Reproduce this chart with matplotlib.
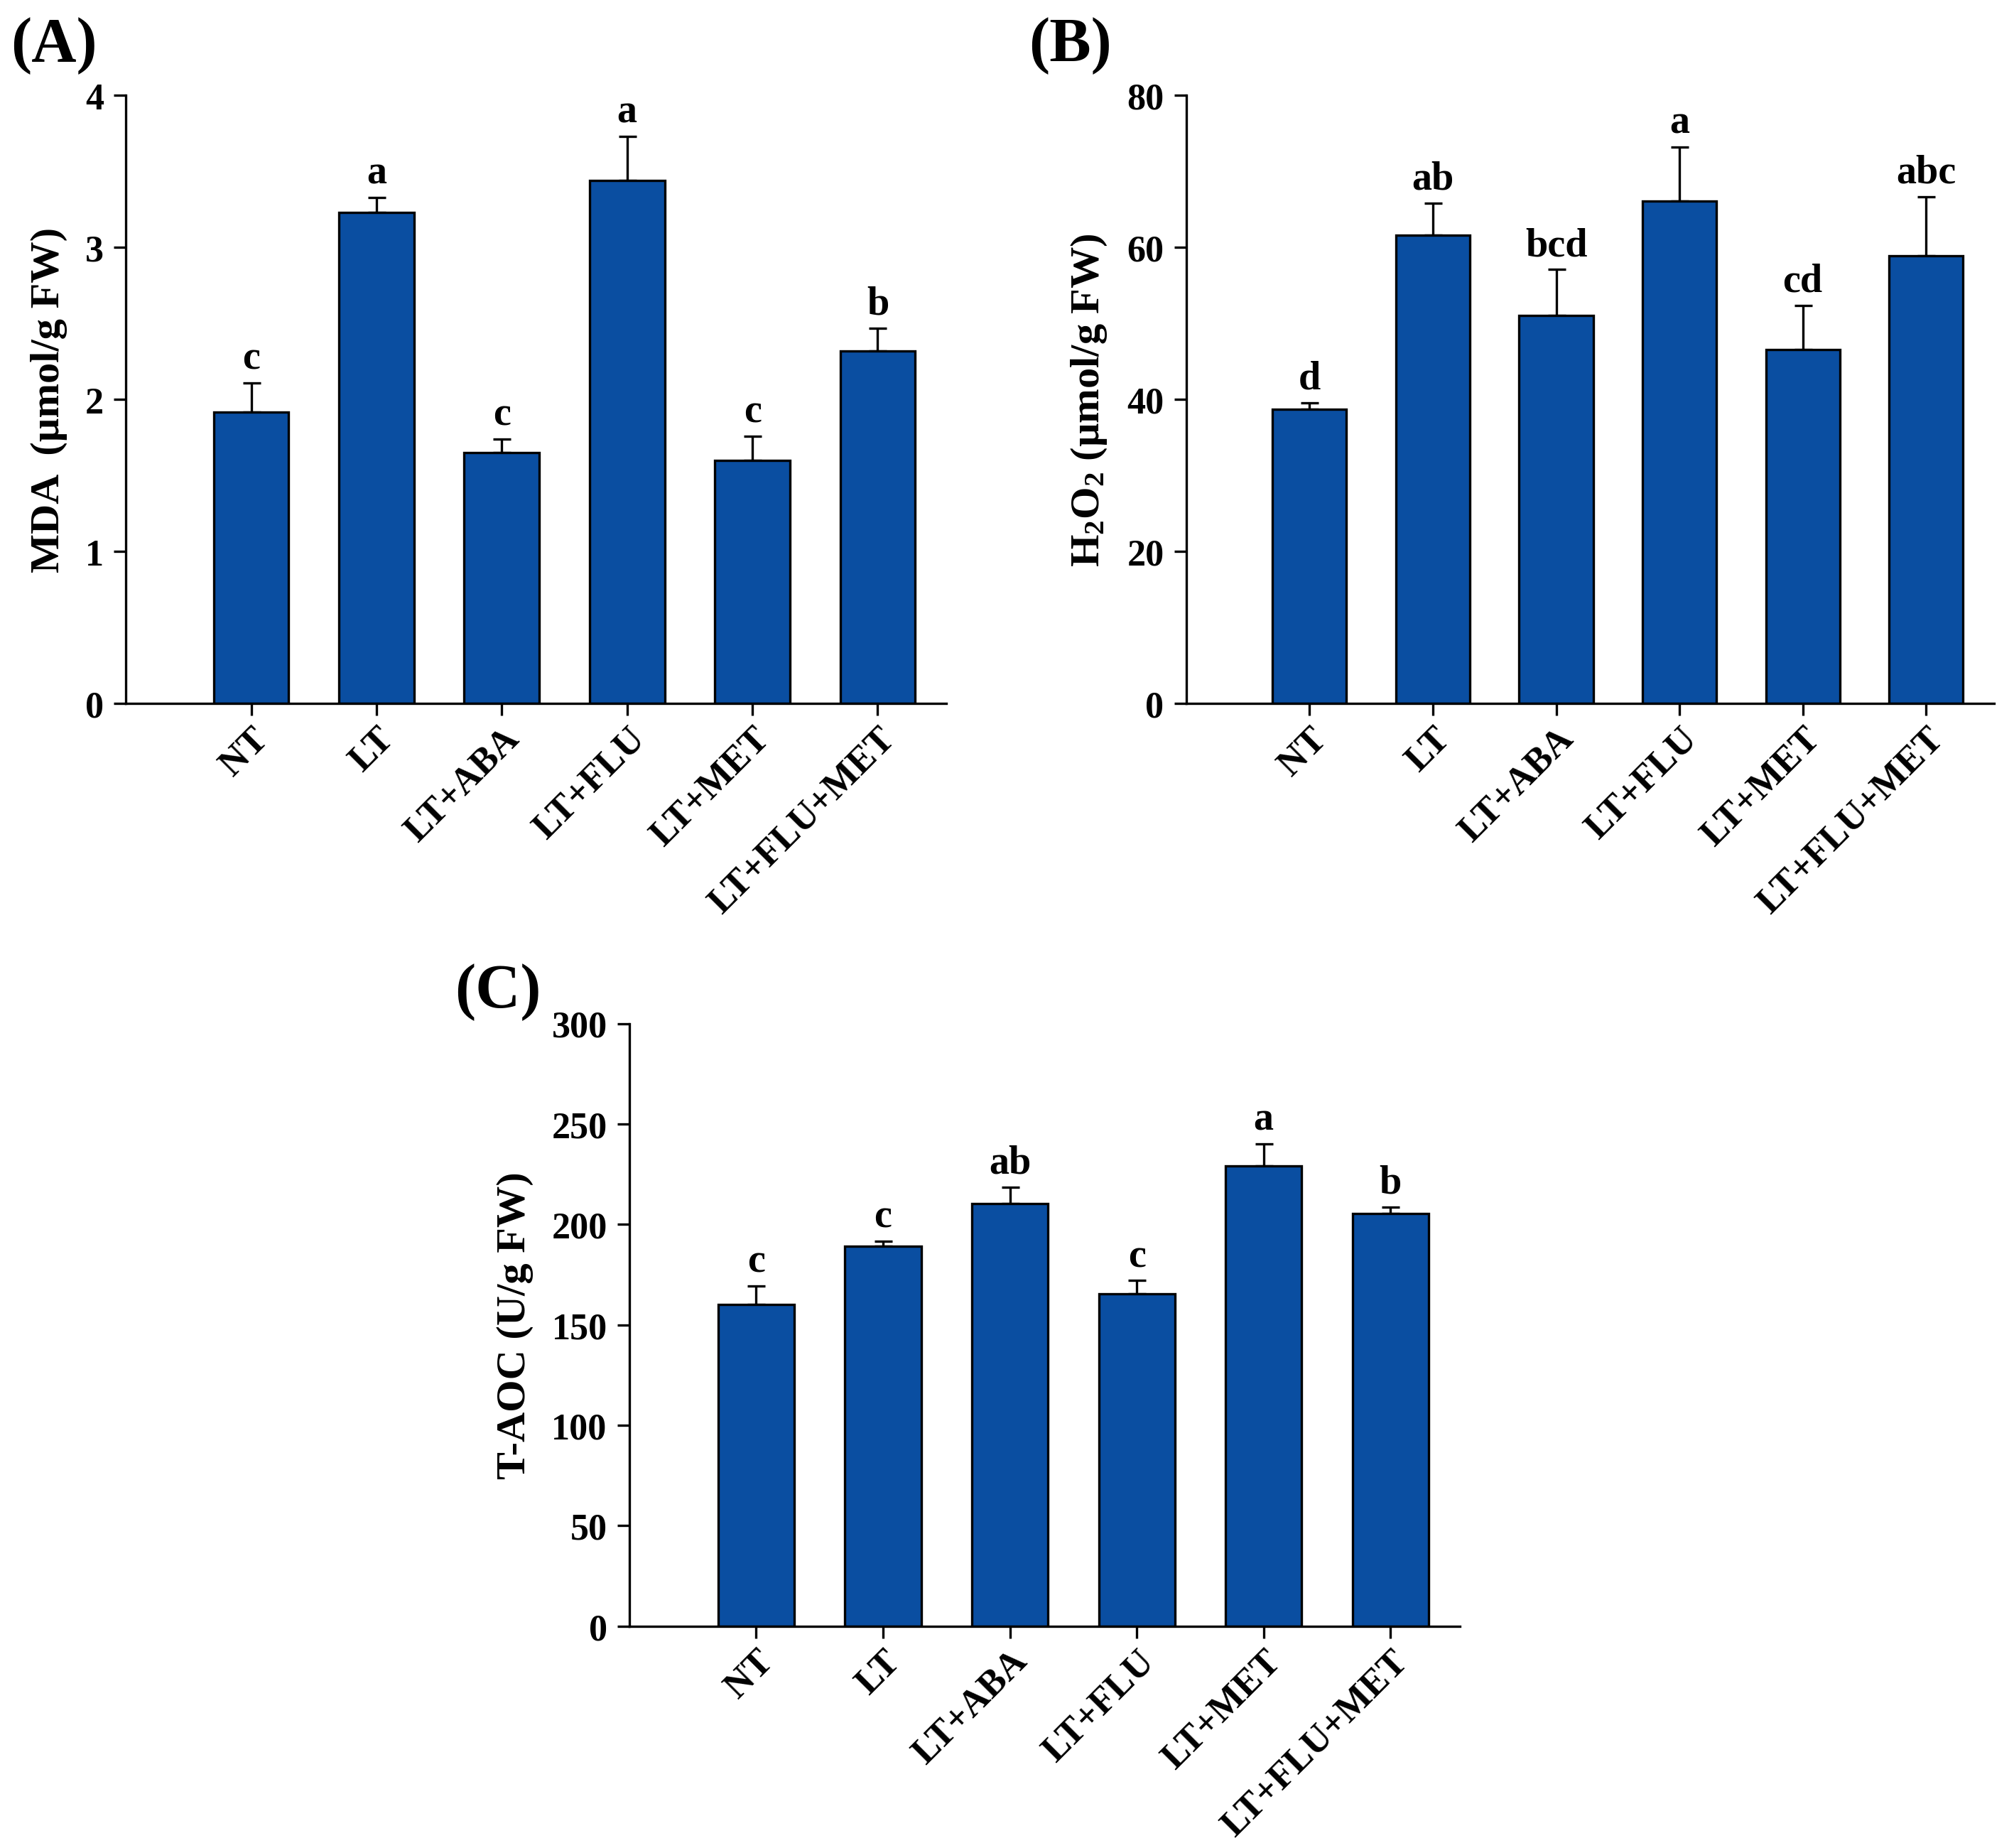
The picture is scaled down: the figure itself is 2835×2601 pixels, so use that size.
import numpy as np
import matplotlib
matplotlib.use('Agg')
import matplotlib.pyplot as plt

plt.rcParams['font.family'] = ['Liberation Serif', 'DejaVu Serif']
plt.rcParams['font.weight'] = 'bold'
plt.rcParams['mathtext.fontset'] = 'custom'
plt.rcParams['mathtext.rm'] = 'Liberation Serif:bold'
plt.rcParams['mathtext.bf'] = 'Liberation Serif:bold'
plt.rcParams['mathtext.default'] = 'bf'

# 数据
groups = ['NT', 'LT', 'LT+ABA', 'LT+FLU', 'LT+MET', 'LT+FLU+MET']

mda = [1.92, 3.23, 1.65, 3.44, 1.60, 2.32]
mda_err = [0.19, 0.10, 0.09, 0.29, 0.16, 0.15]
mda_sig = ['c', 'a', 'c', 'a', 'c', 'b']

h2o2 = [38.7, 61.6, 51.1, 66.1, 46.6, 58.9]
h2o2_err = [0.9, 4.2, 6.0, 7.1, 5.8, 7.8]
h2o2_sig = ['d', 'ab', 'bcd', 'a', 'cd', 'abc']

taoc = [160, 189, 210.5, 165.5, 229, 205.5]
taoc_err = [9.5, 2.5, 8, 6.5, 11, 3]
taoc_sig = ['c', 'c', 'ab', 'c', 'a', 'b']

bar_color = '#0a4ea1'


def draw_panel(ax, vals, errs, sig, ymax, ystep, ylabel, tag, tag_pos):
    x = np.arange(1, len(groups) + 1)
    ax.bar(x, vals, width=0.6, color=bar_color, edgecolor='black', linewidth=0.8, zorder=2)
    ax.errorbar(x, vals, yerr=[np.zeros(len(vals)), errs], fmt='none',
                ecolor='black', elinewidth=0.8, capsize=3, capthick=0.8, zorder=1)
    for xi, v, e, s in zip(x, vals, errs, sig):
        ax.annotate(s, (xi, v + e), xytext=(0, 2), textcoords='offset points',
                    ha='center', va='bottom', fontsize=13.5, fontweight='bold')
    ax.set_xlim(0, 6.55)
    ax.set_ylim(0, ymax)
    ax.set_yticks(np.arange(0, ymax + 0.001, ystep))
    ax.set_xticks(x)
    ax.set_xticklabels(groups, rotation=45, ha='right', rotation_mode='anchor')
    ax.spines['top'].set_visible(False)
    ax.spines['right'].set_visible(False)
    ax.spines['left'].set_linewidth(0.8)
    ax.spines['bottom'].set_linewidth(0.8)
    ax.tick_params(axis='y', direction='out', length=4, width=0.8, labelsize=12.5)
    ax.tick_params(axis='x', direction='out', length=4, width=0.8, labelsize=12.5, pad=2)
    ax.set_ylabel(ylabel, fontsize=14, fontweight='bold', labelpad=6)
    ax.text(tag_pos[0], tag_pos[1], tag, transform=ax.transAxes, fontsize=21,
            fontweight='bold', ha='left', va='bottom')


fig = plt.figure(figsize=(9.45, 8.673), dpi=300)

ax1 = fig.add_axes([0.0625, 0.619, 0.4075, 0.329])
draw_panel(ax1, mda, mda_err, mda_sig, 4, 1, 'MDA  (µmol/g FW)', '(A)', (-0.14, 1.035))

ax2 = fig.add_axes([0.589, 0.619, 0.401, 0.329])
draw_panel(ax2, h2o2, h2o2_err, h2o2_sig, 80, 20, r'H$_2$O$_2$ (µmol/g FW)', '(B)', (-0.195, 1.035))

ax3 = fig.add_axes([0.3125, 0.12, 0.4125, 0.326])
draw_panel(ax3, taoc, taoc_err, taoc_sig, 300, 50, 'T-AOC (U/g FW)', '(C)', (-0.21, 1.005))

fig.savefig('out.png', dpi=300)
